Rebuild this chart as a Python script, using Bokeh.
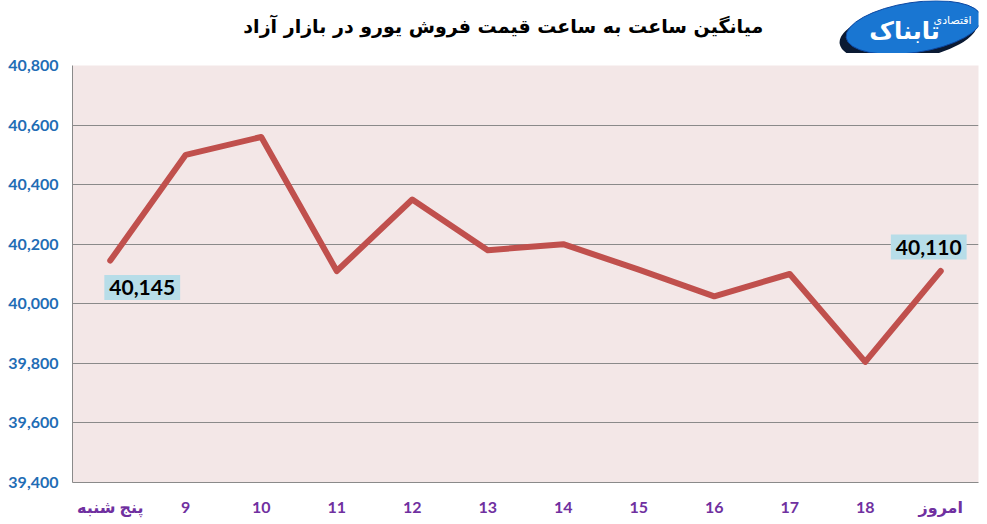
from bokeh.plotting import figure
from bokeh.layouts import column
from bokeh.models import FactorRange, FixedTicker, NumeralTickFormatter, Label, Range1d
from bokeh.core.properties import value
from bokeh.embed import file_html
from bokeh.resources import INLINE

title_text = "میانگین ساعت به ساعت قیمت فروش یورو در بازار آزاد"
logo_main = "تابناک"
logo_sub = "اقتصادی"
categories = ["پنج شنبه", "9", "10", "11", "12", "13", "14", "15", "16", "17", "18", "امروز"]
prices = [40145, 40500, 40560, 40110, 40350, 40180, 40200, 40115, 40025, 40100, 39805, 40110]
y_ticks = [39400, 39600, 39800, 40000, 40200, 40400, 40600, 40800]
annotated = ["پنج شنبه", "امروز"]
annot_texts = ["40,145", "40,110"]

W = 980
TOP_H = 53

# ---- header (title + logo) ----
head = figure(width=W, height=TOP_H, x_range=Range1d(0, W), y_range=Range1d(0, TOP_H),
              output_backend="svg", toolbar_location=None, min_border=0)
head.axis.visible = False
head.grid.visible = False
head.outline_line_color = None
head.background_fill_color = "white"
head.border_fill_color = "white"
head.text(x=[466], y=[TOP_H - 25], text=[title_text], text_align="center",
          text_baseline="middle", text_font=value("DejaVu Sans"), text_font_style="bold",
          text_font_size="19px", text_color="black")
head.ellipse(x=[904], y=[TOP_H - 33], width=150, height=52, angle=0.15,
             fill_color="#0b1a33", line_color=None)
head.ellipse(x=[910], y=[TOP_H - 27], width=148, height=50, angle=0.15,
             fill_color="#1976d2", line_color="#0d47a1", line_width=1)
head.text(x=[900], y=[TOP_H - 30], text=[logo_main], text_align="center",
          text_baseline="middle", text_font=value("DejaVu Sans"), text_font_style="bold",
          text_font_size="24px", text_color="white")
head.text(x=[952], y=[TOP_H - 20], text=[logo_sub], text_align="center",
          text_baseline="middle", text_font=value("DejaVu Sans"),
          text_font_size="11px", text_color="white")

# ---- main chart ----
p = figure(width=W, height=518 - TOP_H, x_range=FactorRange(*categories, range_padding=0),
           y_range=Range1d(39400, 40800), output_backend="svg", toolbar_location=None,
           min_border_top=65 - TOP_H, min_border_left=72, min_border_right=2, min_border_bottom=0)
p.background_fill_color = "#f3e7e7"
p.border_fill_color = "white"
p.outline_line_color = None

p.xgrid.grid_line_color = None
p.ygrid.grid_line_color = "#8a8a8a"
p.ygrid.grid_line_width = 1
p.yaxis.ticker = FixedTicker(ticks=y_ticks)
p.yaxis.formatter = NumeralTickFormatter(format="0,0")

for ax in (p.xaxis, p.yaxis):
    ax.axis_line_color = "#8a8a8a"
    ax.major_tick_line_color = None
    ax.minor_tick_line_color = None
    ax.major_tick_out = 0
    ax.major_tick_in = 0
    ax.minor_tick_out = 0
    ax.major_label_text_font = "Lato, 'DejaVu Sans'"
    ax.major_label_text_font_style = "bold"
    ax.major_label_text_font_size = "16px"
p.yaxis.major_label_text_color = "#1f6db5"
p.yaxis.major_label_standoff = 14
p.xaxis.major_label_text_color = "#7030a0"
p.xaxis.major_label_standoff = 14

p.line(x=categories, y=prices, line_width=6, line_color="#c0504d",
       line_join="round", line_cap="round")

offsets = [(32, -27), (-12, 24)]
for cat, txt, (dx, dy) in zip(annotated, annot_texts, offsets):
    idx = categories.index(cat)
    p.add_layout(Label(x=idx + 0.5, y=prices[idx], text=txt, x_offset=dx, y_offset=dy,
                       text_align="center", text_baseline="middle", text_font="Lato",
                       text_font_style="bold", text_font_size="21px", text_color="black",
                       background_fill_color="#b7dde8", padding=5))

layout = column(head, p, spacing=0)
open("out.html", "w").write(file_html(layout, INLINE))
